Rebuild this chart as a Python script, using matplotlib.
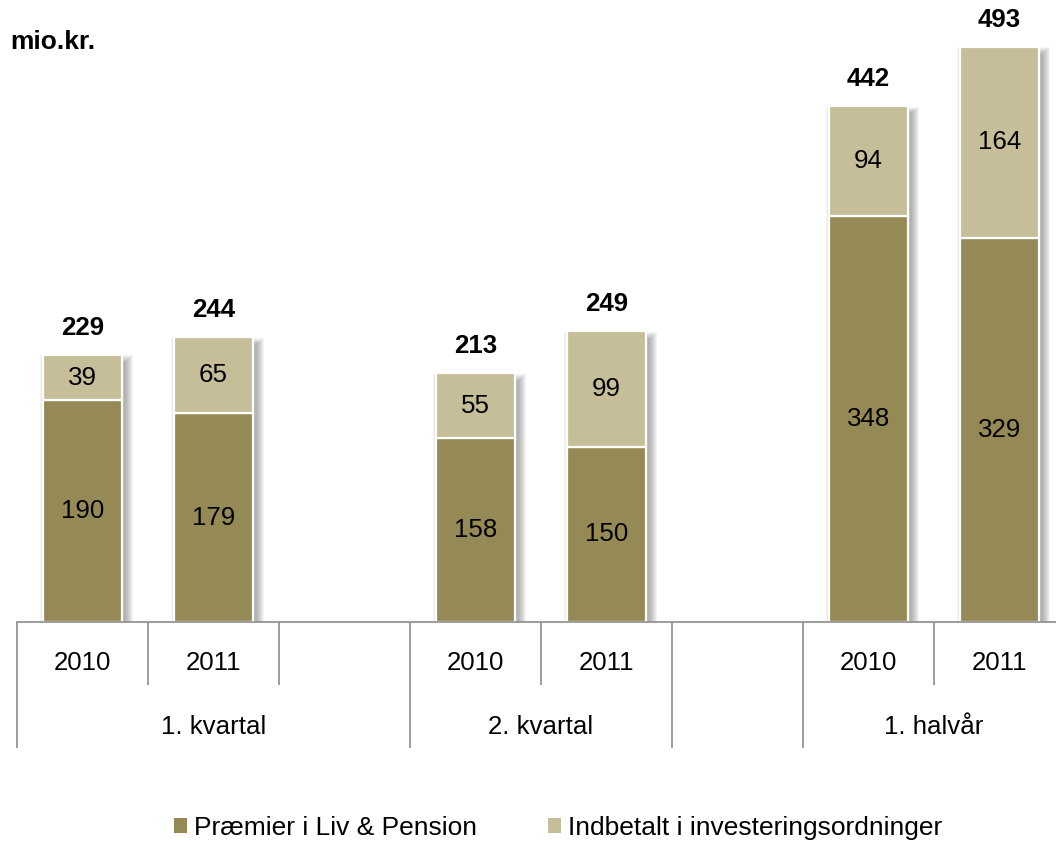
import matplotlib
matplotlib.use("Agg")
import matplotlib.pyplot as plt
from matplotlib.patches import Patch
from matplotlib.transforms import blended_transform_factory

plt.rcParams['font.family'] = ['Liberation Sans', 'DejaVu Sans']

# Category slots along the axis (empty strings are spacer slots)
years = ["2010", "2011", "", "2010", "2011", "", "2010", "2011"]
premier = [190, 179, None, 158, 150, None, 348, 329]
indbetalt = [39, 65, None, 55, 99, None, 94, 164]
# Outer category groups: (label, first slot, last slot)
groups = [("1. kvartal", 0, 2), ("2. kvartal", 3, 4), ("", 5, 5), ("1. halvår", 6, 7)]
series_names = ["Præmier i Liv & Pension", "Indbetalt i investeringsordninger"]

dark = "#958A55"
light = "#C6BE99"
sep_color = "#8C8C8C"
fs = 18.6

W, H = 1056, 841
fig = plt.figure(figsize=(W / 100, H / 100), dpi=100)
ax_px = dict(left=17, right=1065, top=0, bottom=622)
ax = fig.add_axes([ax_px['left'] / W, (H - ax_px['bottom']) / H,
                   (ax_px['right'] - ax_px['left']) / W, (ax_px['bottom'] - ax_px['top']) / H])
ax.set_xlim(-0.5, len(years) - 0.5)
ax.set_ylim(0, 533)

px_x = (len(years)) / (ax_px['right'] - ax_px['left'])
px_y = 533 / (ax_px['bottom'] - ax_px['top'])

bar_w = 0.61
idx = [i for i, v in enumerate(premier) if v is not None]
xs = idx
p_vals = [premier[i] for i in idx]
i_vals = [indbetalt[i] for i in idx]
totals = [a + b for a, b in zip(p_vals, i_vals)]

# soft drop shadow behind each bar
for x, t in zip(xs, totals):
    for k in range(8):
        grow = k * 0.9
        ax.bar(x + 4 * px_x, t + (grow - 7) * px_y, width=bar_w + 2 * grow * px_x,
               bottom=0, color="#444444", alpha=0.06, linewidth=0, zorder=1)

ax.bar(xs, p_vals, width=bar_w, color=dark, edgecolor="white", linewidth=1.6, zorder=2)
ax.bar(xs, i_vals, width=bar_w, bottom=p_vals, color=light, edgecolor="white",
       linewidth=1.6, zorder=2)

for x, p, v, t in zip(xs, p_vals, i_vals, totals):
    ax.text(x, p / 2, f"{p}", ha="center", va="center", fontsize=fs, zorder=3)
    ax.text(x, p + v / 2, f"{v}", ha="center", va="center", fontsize=fs, zorder=3)
    ax.annotate(f"{t}", (x, t), xytext=(0, 19.5), textcoords="offset points",
                ha="center", va="center", fontsize=fs, fontweight="bold")

for s in ["top", "right", "left"]:
    ax.spines[s].set_visible(False)
ax.spines["bottom"].set_color(sep_color)
ax.spines["bottom"].set_linewidth(1.2)
ax.set_xticks([])
ax.set_yticks([])

# multi-level category axis
tr = blended_transform_factory(ax.transData, ax.transAxes)
h_ax = ax_px['bottom'] - ax_px['top']
y_year = -41 / h_ax
y_group = -105 / h_ax
y_short = -63 / h_ax
y_long = -126 / h_ax

for i, yl in enumerate(years):
    if yl:
        ax.text(i, y_year, yl, transform=tr, ha="center", va="center", fontsize=fs)

group_edges = set()
for name, a, b in groups:
    group_edges.add(a - 0.5)
    group_edges.add(b + 0.5)
    if name:
        ax.text((a + b) / 2, y_group, name, transform=tr, ha="center", va="center",
                fontsize=fs)

for k in range(len(years) + 1):
    edge = k - 0.5
    y_end = y_long if edge in group_edges else y_short
    ax.plot([edge, edge], [0, y_end], transform=tr, color=sep_color, lw=1.2,
            clip_on=False, solid_capstyle="butt")

fig.text(10 / W, 1 - 42 / H, "mio.kr.", ha="left", va="center", fontsize=19,
         fontweight="bold")

handles = [Patch(facecolor=dark, edgecolor="none"), Patch(facecolor=light, edgecolor="none")]
fig.legend(handles, series_names, loc="center", bbox_to_anchor=(558 / W, 13 / H),
           ncol=2, frameon=False, fontsize=19, handlelength=0.5, handleheight=0.5,
           handletextpad=0.25, columnspacing=2.7, borderaxespad=0, borderpad=0)

fig.savefig("out.png", dpi=100)
